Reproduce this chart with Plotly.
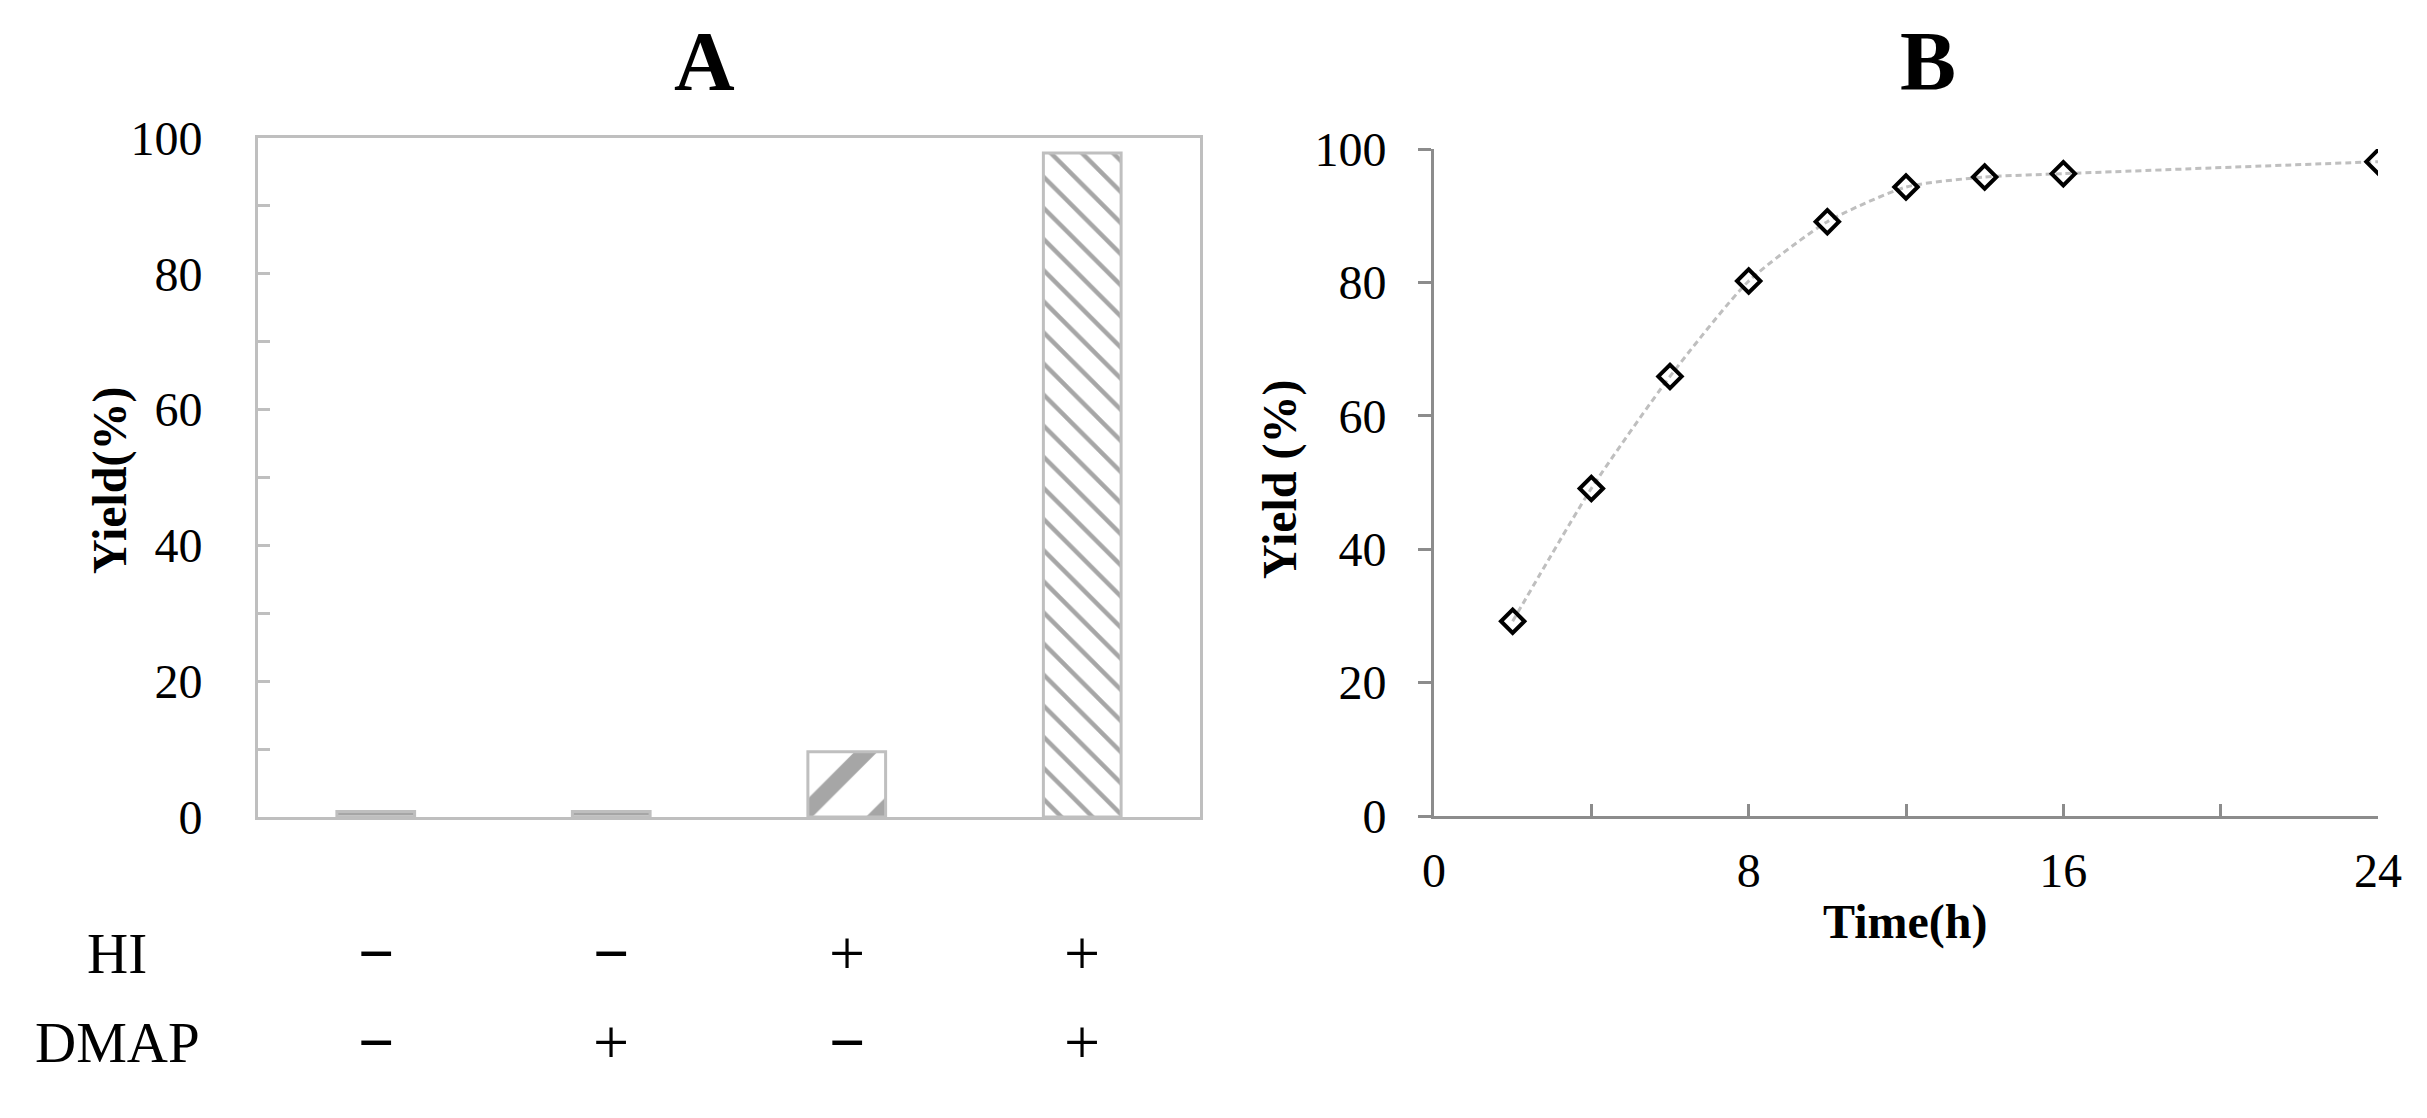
import plotly.graph_objects as go

# ===============================
#  data
# ===============================
conditions = ["c1", "c2", "c3", "c4"]
yield_a = [0.8, 0.8, 9.6, 97.8]
hi_row = ["−", "−", "+", "+"]
dmap_row = ["−", "+", "−", "+"]
bar_shapes = ["-", "-", "/", "\\"]
bar_sizes = [8, 8, 54, 22]
bar_solidity = [0.4, 0.4, 0.3, 0.2]

time_h = [2, 4, 6, 8, 10, 12, 14, 16, 24]
yield_b = [29.2, 49.1, 65.9, 80.2, 89.1, 94.3, 95.8, 96.3, 98.1]

# ===============================
#  styling
# ===============================
OFF = 8                      # page body margin
W, H = 2427 - OFF, 1118 - OFF
SERIF = "Liberation Serif, Times New Roman, serif"
GRAY_BOX = "#bfbfbf"
GRAY_AXIS = "#8c8c8c"
PAT = "#a6a6a6"


def px_x(v):
    return (v - OFF) / W


def px_y(v):
    return 1 - (v - OFF) / H


fig = go.Figure()

# ----- A : bars -----
fig.add_trace(go.Bar(
    x=conditions,
    y=yield_a,
    width=0.33,
    marker=dict(
        color="white",
        line=dict(color=GRAY_BOX, width=3),
        pattern=dict(
            shape=bar_shapes,
            size=bar_sizes,
            solidity=bar_solidity,
            fgcolor=PAT,
            bgcolor="white",
            fillmode="replace",
        ),
    ),
    xaxis="x", yaxis="y",
    showlegend=False,
))

# ----- B : time course -----
fig.add_trace(go.Scatter(
    x=time_h,
    y=yield_b,
    mode="lines+markers",
    line=dict(color=GRAY_BOX, width=3, dash="6px,4px", shape="spline", smoothing=0.6),
    marker=dict(symbol="diamond-open", size=18, color="black", line=dict(color="black", width=4)),
    xaxis="x2", yaxis="y2",
    showlegend=False,
))

tick_font = dict(family=SERIF, size=48, color="black")

fig.update_layout(
    template="none",
    width=W, height=H,
    margin=dict(l=0, r=0, t=0, b=0, pad=0, autoexpand=False),
    paper_bgcolor="white",
    plot_bgcolor="white",
    showlegend=False,
    font=dict(family=SERIF, color="black"),
    xaxis=dict(
        domain=[px_x(258), px_x(1200)],
        showticklabels=False, ticks="",
        showline=True, linecolor=GRAY_BOX, linewidth=3, mirror=True,
        showgrid=False, zeroline=False, automargin=False,
    ),
    yaxis=dict(
        domain=[px_y(817), px_y(138)],
        range=[0, 100], dtick=20,
        ticks="inside", ticklen=12, tickwidth=3, tickcolor=GRAY_BOX,
        minor=dict(dtick=10, ticks="inside", ticklen=12, tickwidth=3, tickcolor=GRAY_BOX),
        showline=True, linecolor=GRAY_BOX, linewidth=3, mirror=True,
        showgrid=False, zeroline=False, automargin=False,
        tickfont=tick_font, ticklabelstandoff=43,
    ),
    xaxis2=dict(
        domain=[px_x(1434), px_x(2378)],
        range=[0, 24], tickvals=[0, 8, 16, 24],
        ticks="inside", ticklen=12, tickwidth=3, tickcolor=GRAY_AXIS,
        minor=dict(tickvals=[4, 12, 20], ticks="inside", ticklen=12, tickwidth=3, tickcolor=GRAY_AXIS),
        showline=True, linecolor=GRAY_AXIS, linewidth=3,
        showgrid=False, zeroline=False, automargin=False,
        tickfont=tick_font, ticklabelstandoff=10,
        anchor="y2",
    ),
    yaxis2=dict(
        domain=[px_y(816), px_y(149)],
        range=[0, 100], dtick=20,
        ticks="outside", ticklen=13, tickwidth=3, tickcolor=GRAY_AXIS,
        showline=True, linecolor=GRAY_AXIS, linewidth=3,
        showgrid=False, zeroline=False, automargin=False,
        tickfont=tick_font, ticklabelstandoff=22,
        anchor="x2",
    ),
)

# ----- text annotations -----
def label(text, x, y, size, angle=0, xref="paper"):
    return dict(text=text, x=x, y=px_y(y), xref=xref, yref="paper",
                xanchor="center", yanchor="middle", textangle=angle,
                showarrow=False, font=dict(family=SERIF, size=size, color="black"))


ann = [
    # panel letters
    label("<b>A</b>", px_x(704), 62, 84),
    label("<b>B</b>", px_x(1928), 62, 84),
    # axis titles
    label("<b>Yield(%)</b>", px_x(110), 480, 48, angle=-90),
    label("<b>Yield (%)</b>", px_x(1280), 479, 48, angle=-90),
    label("<b>Time(h)</b>", px_x(1905), 922, 48),
    # condition table under panel A
    label("HI", px_x(117), 953, 57),
    label("DMAP", px_x(117), 1042, 57),
]
for c, h, d in zip(conditions, hi_row, dmap_row):
    for sym, yy in ((h, 953), (d, 1042)):
        txt = "<b>−</b>" if sym == "−" else "+"
        ann.append(label(txt, c, yy, 64, xref="x"))

fig.update_layout(annotations=ann)

fig.write_html("out.html")
